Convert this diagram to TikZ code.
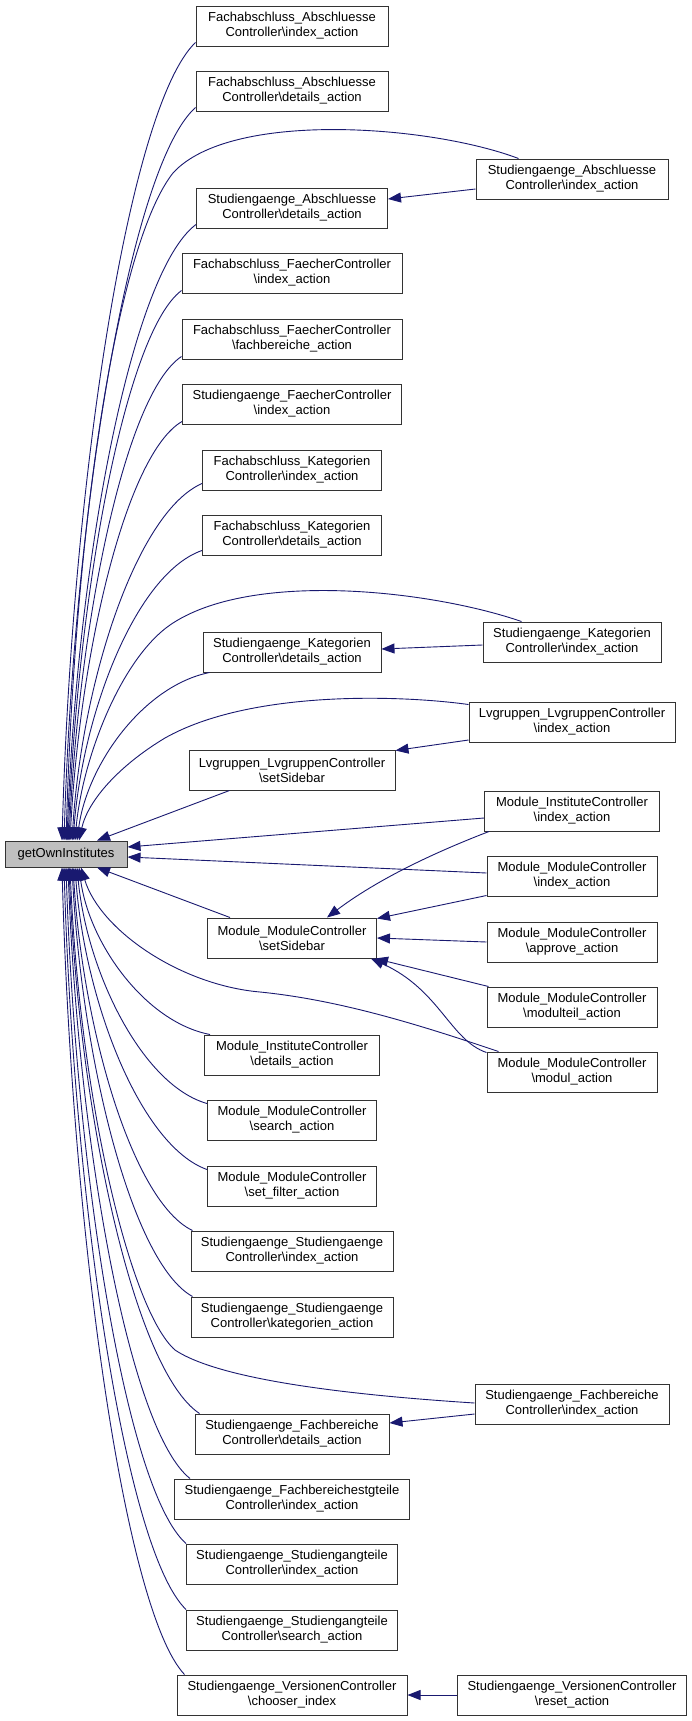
\documentclass[tikz,border=0pt]{standalone}
\usepackage{fontspec}
\setmainfont{Liberation Sans}
\usetikzlibrary{%
   arrows.meta,%
   positioning%
}
\definecolor{callblue}{HTML}{191970}
\definecolor{rootgray}{HTML}{BFBFBF}

\begin{document}
\begin{tikzpicture}[x=1pt,y=-1pt,func/.style={
	rectangle,
	minimum height=40pt,
	inner xsep=2pt,
	line width=1pt,
	draw=black!80,
	fill=white,
	align=center,
	font=\fontsize{13}{15}\selectfont
	},root/.style={
	func,minimum height=26pt,minimum width=122pt,
	fill=rootgray
	},call/.style={
	draw=callblue,line width=0.9pt,
	-{Triangle[length=13pt,width=10pt]}
	}
]
\useasboundingbox[fill=white] (0,0) rectangle (692,1721);

\node (own) [root] at (66,854) {getOwnInstitutes};

% First column
\node (FAindex) [func,minimum width=192pt] at (292,26) {Fachabschluss\_Abschluesse\\Controller\textbackslash index\_action};
\node (FAdetails) [func,minimum width=192pt] at (292,91) {Fachabschluss\_Abschluesse\\Controller\textbackslash details\_action};
\node (SAdetails) [func,minimum width=191pt] at (292,208) {Studiengaenge\_Abschluesse\\Controller\textbackslash details\_action};
\node (FFindex) [func,minimum width=220pt] at (292,273) {Fachabschluss\_FaecherController\\\textbackslash index\_action};
\node (FFfach) [func,minimum width=220pt] at (292,339) {Fachabschluss\_FaecherController\\\textbackslash fachbereiche\_action};
\node (SFindex) [func,minimum width=219pt] at (292,404) {Studiengaenge\_FaecherController\\\textbackslash index\_action};
\node (FKindex) [func,minimum width=179pt] at (292,470) {Fachabschluss\_Kategorien\\Controller\textbackslash index\_action};
\node (FKdetails) [func,minimum width=179pt] at (292,535) {Fachabschluss\_Kategorien\\Controller\textbackslash details\_action};
\node (SKdetails) [func,minimum width=178pt] at (292,652) {Studiengaenge\_Kategorien\\Controller\textbackslash details\_action};
\node (LLsidebar) [func,minimum width=206pt] at (292,770) {Lvgruppen\_LvgruppenController\\\textbackslash setSidebar};
\node (MMsidebar) [func,minimum width=169pt] at (292,938) {Module\_ModuleController\\\textbackslash setSidebar};
\node (MIdetails) [func,minimum width=175pt] at (292,1055) {Module\_InstituteController\\\textbackslash details\_action};
\node (MMsearch) [func,minimum width=169pt] at (292,1120) {Module\_ModuleController\\\textbackslash search\_action};
\node (MMfilter) [func,minimum width=169pt] at (292,1186) {Module\_ModuleController\\\textbackslash set\_filter\_action};
\node (SSindex) [func,minimum width=202pt] at (292,1251) {Studiengaenge\_Studiengaenge\\Controller\textbackslash index\_action};
\node (SSkat) [func,minimum width=202pt] at (292,1317) {Studiengaenge\_Studiengaenge\\Controller\textbackslash kategorien\_action};
\node (SFBdetails) [func,minimum width=194pt] at (292,1434) {Studiengaenge\_Fachbereiche\\Controller\textbackslash details\_action};
\node (SFBSTindex) [func,minimum width=235pt] at (292,1499) {Studiengaenge\_Fachbereichestgteile\\Controller\textbackslash index\_action};
\node (STindex) [func,minimum width=211pt] at (292,1564) {Studiengaenge\_Studiengangteile\\Controller\textbackslash index\_action};
\node (STsearch) [func,minimum width=211pt] at (292,1630) {Studiengaenge\_Studiengangteile\\Controller\textbackslash search\_action};
\node (SVchooser) [func,minimum width=230pt] at (292,1695) {Studiengaenge\_VersionenController\\\textbackslash chooser\_index};

% Second column
\node (SAindex) [func,minimum width=192pt] at (572,179) {Studiengaenge\_Abschluesse\\Controller\textbackslash index\_action};
\node (SKindex) [func,minimum width=178pt] at (572,642) {Studiengaenge\_Kategorien\\Controller\textbackslash index\_action};
\node (LLindex) [func,minimum width=206pt] at (572,722) {Lvgruppen\_LvgruppenController\\\textbackslash index\_action};
\node (MIindex) [func,minimum width=175pt] at (572,811) {Module\_InstituteController\\\textbackslash index\_action};
\node (MMindex) [func,minimum width=170pt] at (572,876) {Module\_ModuleController\\\textbackslash index\_action};
\node (MMapprove) [func,minimum width=170pt] at (572,942) {Module\_ModuleController\\\textbackslash approve\_action};
\node (MMmodulteil) [func,minimum width=170pt] at (572,1007) {Module\_ModuleController\\\textbackslash modulteil\_action};
\node (MMmodul) [func,minimum width=170pt] at (572,1072) {Module\_ModuleController\\\textbackslash modul\_action};
\node (SFBindex) [func,minimum width=194pt] at (572,1404) {Studiengaenge\_Fachbereiche\\Controller\textbackslash index\_action};
\node (SVreset) [func,minimum width=229pt] at (572,1695) {Studiengaenge\_VersionenController\\\textbackslash reset\_action};

% calls from above
\draw[call] ([yshift=4pt]FAindex.south west) .. controls (129,106) and (72,481) .. ([xshift=-4pt]own.north);
\draw[call] ([yshift=4pt]FAdetails.south west) .. controls (130,166) and (74,511) .. ([xshift=-2pt]own.north);
\draw[call] ([yshift=4pt]SAdetails.south west) .. controls (131,273) and (77,563) .. ([xshift=1pt]own.north);
\draw[call] ([yshift=3pt]FFindex.south west) .. controls (125,333) and (78,593) .. ([xshift=2pt]own.north);
\draw[call] ([yshift=3pt]FFfach.south west) .. controls (125,394) and (79,622) .. ([xshift=3pt]own.north);
\draw[call] ([yshift=3pt]SFindex.south west) .. controls (126,454) and (80,652) .. ([xshift=4pt]own.north);
\draw[call] ([yshift=7pt]FKindex.south west) .. controls (137,512) and (82,680) .. ([xshift=6pt]own.north);
\draw[call] ([yshift=5pt]FKdetails.south west) .. controls (137,573) and (83,710) .. ([xshift=7pt]own.north);
\draw[call] ([xshift=7pt]SKdetails.south west) .. controls (143,686) and (87,765) .. ([xshift=11pt]own.north);
\draw[call] ([xshift=41pt]LLsidebar.south west) -- ([xshift=31pt]own.north);
\draw[call] ([xshift=43pt]SAindex.north west) .. controls (430,125) and (230,110) .. (173,173) .. controls (120,240) and (76,500) .. (own.north);
\draw[call] ([xshift=39pt]SKindex.north west) .. controls (430,590) and (250,570) .. (170,625) .. controls (120,660) and (82,760) .. ([xshift=9pt]own.north);
\draw[call] ([yshift=-3pt]LLindex.north west) .. controls (400,695) and (250,690) .. (165,738) .. controls (120,765) and (88,800) .. ([xshift=13pt]own.north);

% calls from the right
\draw[call] ([yshift=-7pt]MIindex.west) -- ([yshift=7pt]own.east);
\draw[call] ([yshift=3pt]MMindex.west) -- ([yshift=-3pt]own.east);

% calls from below
\draw[call] ([xshift=23pt]MMsidebar.north west) -- ([xshift=31pt]own.south);
\draw[call] ([xshift=6pt]MIdetails.north west) .. controls (145,1022) and (89,943) .. ([xshift=13pt]own.south);
\draw[call] ([yshift=-4pt]MMsearch.north west) .. controls (142,1085) and (87,972) .. ([xshift=11pt]own.south);
\draw[call] ([yshift=-4pt]MMfilter.north west) .. controls (141,1146) and (85,1003) .. ([xshift=9pt]own.south);
\draw[call] ([xshift=2pt]SSindex.north west) .. controls (133,1202) and (83,1031) .. ([xshift=7pt]own.south);
\draw[call] ([xshift=2pt]SSkat.north west) .. controls (132,1263) and (82,1061) .. ([xshift=6pt]own.south);
\draw[call] ([xshift=5pt]SFBdetails.north west) .. controls (134,1370) and (79,1113) .. ([xshift=3pt]own.south);
\draw[call] ([xshift=16pt]SFBSTindex.north west) .. controls (129,1430) and (78,1142) .. ([xshift=2pt]own.south);
\draw[call] (STindex.north west) .. controls (126,1490) and (76,1172) .. (own.south);
\draw[call] (STsearch.north west) .. controls (125,1550) and (74,1202) .. ([xshift=-2pt]own.south);
\draw[call] ([xshift=8pt]SVchooser.north west) .. controls (124,1610) and (72,1231) .. ([xshift=-4pt]own.south);
\draw[call] ([xshift=12pt]MMmodul.north west) .. controls (420,1025) and (340,1000) .. (260,992) .. controls (180,985) and (100,930) .. ([xshift=15pt]own.south);
\draw[call] ([yshift=1pt]SFBindex.west) .. controls (350,1395) and (220,1380) .. (175,1350) .. controls (130,1310) and (80,1100) .. ([xshift=4pt]own.south);

% second column to first column
\draw[call] ([yshift=-10pt]SAindex.west) -- ([yshift=9pt]SAdetails.east);
\draw[call] ([yshift=-3pt]SKindex.west) -- ([yshift=3pt]SKdetails.east);
\draw[call] ([yshift=-18pt]LLindex.west) -- ([yshift=-1pt]LLsidebar.north east);
\draw[call] ([xshift=5pt]MIindex.south west) .. controls (420,858) and (370,885) .. ([xshift=35pt]MMsidebar.north);
\draw[call] ([yshift=1pt]MMindex.south west) -- ([yshift=-1pt]MMsidebar.north east);
\draw[call] (MMapprove.west) -- (MMsidebar.east);
\draw[call] ([xshift=2pt]MMmodulteil.north west) -- ([xshift=-2pt]MMsidebar.south east);
\draw[call] ([yshift=-1pt]MMmodul.north west) .. controls (450,1040) and (440,990) .. ([xshift=-6pt]MMsidebar.south east);
\draw[call] ([yshift=-10pt]SFBindex.west) -- ([yshift=11pt]SFBdetails.east);
\draw[call] (SVreset.west) -- (SVchooser.east);

\end{tikzpicture}
\end{document}
